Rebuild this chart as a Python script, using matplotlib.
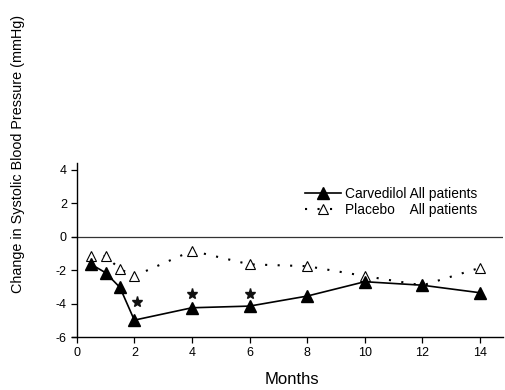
import matplotlib
matplotlib.use("Agg")
import matplotlib.pyplot as plt

plt.rcParams['font.family'] = ['Liberation Sans', 'DejaVu Sans']
plt.rcParams['axes.unicode_minus'] = False

months = [0.5, 1, 1.5, 2, 4, 6, 8, 10, 12, 14]
carvedilol = [-1.65, -2.15, -3.03, -4.99, -4.25, -4.15, -3.55, -2.69, -2.9, -3.35]
placebo = [-1.16, -1.15, -1.93, -2.35, -0.84, -1.65, -1.76, -2.35, -2.91, -1.86]
star_x = [2.1, 4, 6]
star_y = [-3.9, -3.43, -3.43]
xticks = [0, 2, 4, 6, 8, 10, 12, 14]
yticks = [-6, -4, -2, 0, 2, 4]

W, H = 506, 390
fig = plt.figure(figsize=(W / 100, H / 100), dpi=100)
ax = fig.add_axes([72.4 / W, 1 - 337 / H, (503 - 72.4) / W, (337 - 163.3) / H])

ax.axhline(0, color='#333333', linewidth=0.9, zorder=1)
ax.plot(months, placebo, linestyle=(0, (1, 5)), color='black', linewidth=1.5,
        marker='^', markersize=7.5, markerfacecolor='white', markeredgecolor='black',
        markeredgewidth=0.8, label='Placebo    All patients', zorder=3)
ax.plot(months, carvedilol, linestyle='-', color='black', linewidth=1.2,
        marker='^', markersize=8, markerfacecolor='black', markeredgecolor='black',
        label='Carvedilol All patients', zorder=4)
ax.plot(star_x, star_y, linestyle='none', marker='*', markersize=8,
        color='#111111', zorder=4)

ax.set_xlim(-0.15, 14.8)
ax.set_ylim(-6, 4.4)
ax.set_xticks(xticks)
ax.set_yticks(yticks)
ax.spines['top'].set_visible(False)
ax.spines['right'].set_visible(False)
ax.spines['left'].set_position(('data', 0))
for s in ['left', 'bottom']:
    ax.spines[s].set_linewidth(1.0)
ax.tick_params(direction='out', length=4, width=0.9, labelsize=9, pad=3)

handles, labels = ax.get_legend_handles_labels()
ax.legend(handles[::-1], labels[::-1], loc='upper left',
          bbox_to_anchor=(305 / W, 1 - 187 / H), bbox_transform=fig.transFigure,
          frameon=False, fontsize=9.9, handlelength=2.6, handletextpad=0.3,
          labelspacing=0.16, borderaxespad=0, borderpad=0)

fig.text(18 / W, 1 - 154 / H, 'Change in Systolic Blood Pressure (mmHg)',
         rotation=90, ha='center', va='center', fontsize=10.4)
fig.text(292 / W, 1 - 380 / H, 'Months', ha='center', va='center', fontsize=12)

fig.savefig('out.png', dpi=100)
